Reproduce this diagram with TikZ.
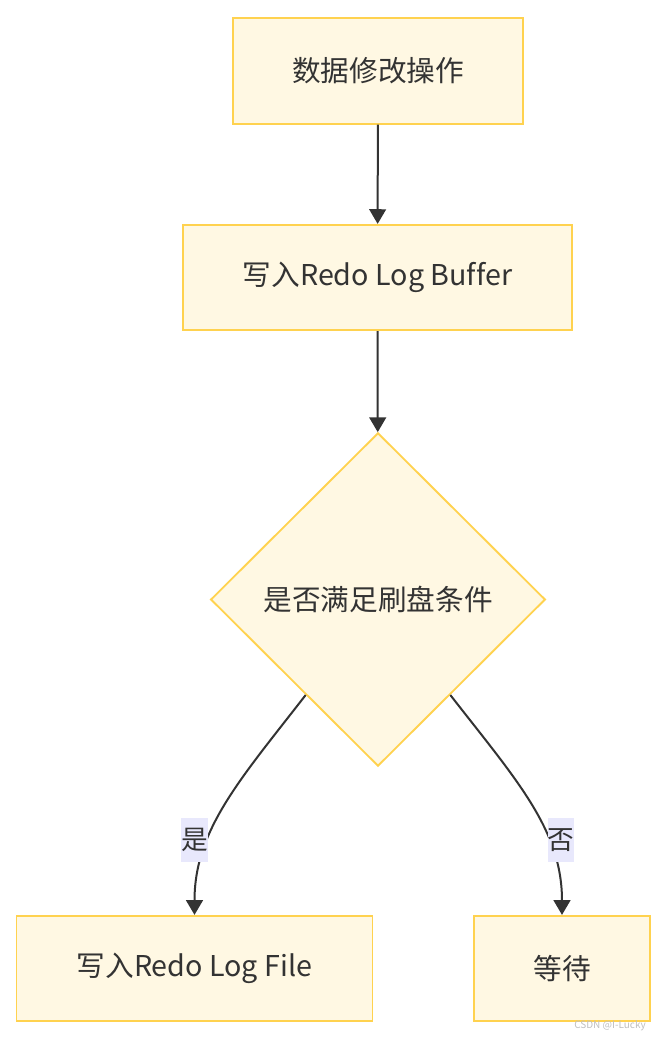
\documentclass[tikz,border=0pt]{standalone}
\usepackage{fontspec}
\setmainfont{Noto Sans CJK SC}[Ligatures=NoCommon]
\usetikzlibrary{arrows.meta}
\usetikzlibrary{shapes.geometric, calc}
\definecolor{colfill}{HTML}{FFF8E3}
\definecolor{colline}{HTML}{FFD24F}
\definecolor{coltext}{HTML}{333333}
\definecolor{collab}{HTML}{E8E8FC}

\begin{document}
\begin{tikzpicture}[x=0.75pt, y=-0.75pt]
    \tikzstyle{box} += [rectangle, draw=colline, fill=colfill, line width=1.4pt,
      text=coltext, font=\fontsize{21.5}{26}\selectfont, minimum height=79pt, inner sep=0pt];
    \tikzstyle{lab} += [fill=collab, text=coltext, font=\fontsize{20}{24}\selectfont,
      minimum width=20pt, minimum height=33pt, inner sep=0pt];

    \useasboundingbox (0,0) rectangle (666,1040);

    \node (op)   at (378,   71)   [box, minimum width=217pt] {数据修改操作};
    \node (buf)  at (377.5, 277.5) [box, minimum width=292pt] {写入Redo Log Buffer};
    \node (cond) at (378,  599.5) [box, diamond, minimum width=251pt, minimum height=250pt,
      label={[text=coltext, font=\fontsize{21.5}{26}\selectfont]center:是否满足刷盘条件}] {};
    \node (file) at (194.5, 968.5) [box, minimum width=267pt] {写入Redo Log File};
    \node (wait) at (562,  968.5) [box, minimum width=132pt] {等待};

    \begin{scope}[-{Triangle[length=11pt, width=12.5pt]}, line width=1.5pt, coltext]
      \draw (op) -- (buf);
      \draw (buf) -- (cond);
      \draw ($(cond.west)!0.57!(cond.south)$) .. controls +(-66,85) and +(0,-85) .. (file.north);
      \draw ($(cond.east)!0.57!(cond.south)$) .. controls +(67,86) and +(0,-85) .. (wait.north);
    \end{scope}

    \node (yes) at (194.5, 840) [lab] {是};
    \node (no)  at (561,   840) [lab] {否};

    \node (mark) at (610, 1026) [text=black!25, font=\fontsize{7.5}{9}\selectfont] {CSDN @I-Lucky};
  \end{tikzpicture}
\end{document}
